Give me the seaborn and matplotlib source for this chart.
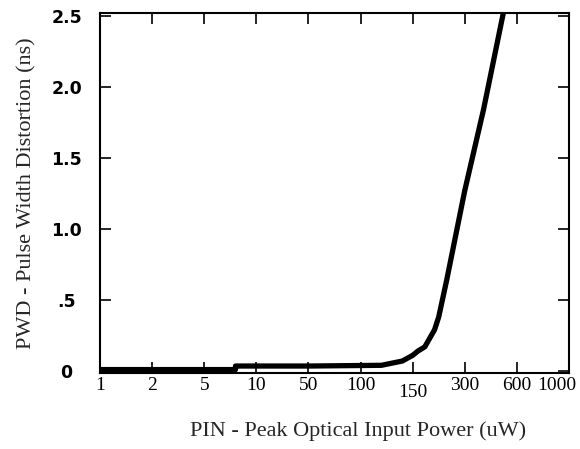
import numpy as np
import matplotlib
matplotlib.use("Agg")
import matplotlib.pyplot as plt
import matplotlib.transforms as mtransforms
import seaborn as sns
import pandas as pd

sns.set_style("ticks")
plt.rcParams['font.family'] = ['Liberation Serif', 'DejaVu Serif']

# evenly spaced (non-linear) x axis ticks, uW
tick_uw = [1, 2, 5, 10, 50, 100, 150, 300, 600, 1000]
tick_labels = ['1', '2', '5', '10', '50', '100', '150', '300', '600', '1000']
y_ticks = [0, 0.5, 1.0, 1.5, 2.0, 2.5]
y_labels = ['0', '.5', '1.0', '1.5', '2.0', '2.5']

# curve
power_uw = [1, 8, 8, 50, 120, 140, 150, 165, 185, 213, 225, 248, 300, 408, 522]
pwd_ns = [0.01, 0.01, 0.035, 0.035, 0.04, 0.07, 0.11, 0.14, 0.17, 0.29, 0.38, 0.64, 1.27, 1.84, 2.52]

df = pd.DataFrame({'PIN': power_uw, 'PWD': pwd_ns})

pos = np.arange(len(tick_uw))


def fwd(x):
    return np.interp(x, tick_uw, pos)


def inv(p):
    return np.interp(p, pos, tick_uw)


fig = plt.figure(figsize=(5.8, 4.49), dpi=100)
ax = fig.add_axes([0.1724, 0.1693, 0.8086, 0.8017])
ax.set_xscale('function', functions=(fwd, inv))

sns.lineplot(data=df, x='PIN', y='PWD', ax=ax, color='black', linewidth=3.8,
             estimator=None, sort=False)

ax.set_xlim(1, 1000)
ax.set_ylim(-0.014, 2.52)
ax.set_xticks(tick_uw)
ax.set_xticklabels(tick_labels, fontsize=14)
ax.set_yticks(y_ticks)
ax.set_yticklabels(y_labels, fontsize=12.5, fontweight='bold',
                   family=['Liberation Sans Narrow', 'DejaVu Sans'], ha='center')
ax.minorticks_off()

ax.tick_params(axis='both', direction='in', length=8, width=1.2,
               top=True, right=True, colors='black')
ax.tick_params(axis='x', pad=3)
ax.tick_params(axis='y', pad=24)
for s in ax.spines.values():
    s.set_linewidth(1.5)
    s.set_color('black')

# "150" sits a bit lower, "1000" is pushed against the right edge
for lab in ax.get_xticklabels():
    if lab.get_text() == '150':
        lab.set_transform(lab.get_transform() +
                          mtransforms.ScaledTranslation(0, -5 / 72, fig.dpi_scale_trans))
    if lab.get_text() == '1000':
        lab.set_ha('right')
        lab.set_transform(lab.get_transform() +
                          mtransforms.ScaledTranslation(5 / 72, 0, fig.dpi_scale_trans))

ax.set_xlabel('PIN - Peak Optical Input Power (uW)', fontsize=16)
ax.set_ylabel('PWD - Pulse Width Distortion (ns)', fontsize=16)
ax.xaxis.set_label_coords(0.55, -0.135)
ax.yaxis.set_label_coords(-0.135, 0.5)

fig.savefig('out.png', dpi=100)
